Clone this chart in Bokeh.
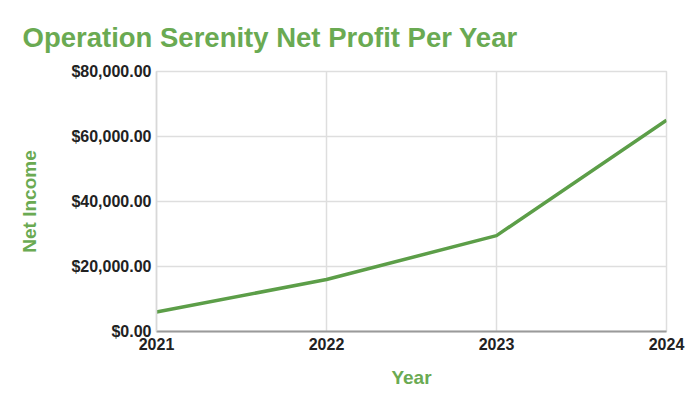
from bokeh.plotting import figure
from bokeh.models import NumeralTickFormatter, FixedTicker, Range1d
from bokeh.embed import file_html
from bokeh.resources import INLINE

years = [2021, 2022, 2023, 2024]
net_income = [6000, 16000, 29500, 65000]
y_ticks = [0, 20000, 40000, 60000, 80000]
title_text = "Operation Serenity Net Profit Per Year"
x_label = "Year"
y_label = "Net Income"

GREEN = "#6aaa52"
LINE = "#5c9e48"
FONT = "Liberation Sans"

p = figure(width=692, height=399, output_backend="svg", toolbar_location=None,
           x_range=Range1d(2021, 2024), y_range=Range1d(0, 80000),
           min_border_left=156, min_border_right=26, min_border_top=70,
           min_border_bottom=68, background_fill_color="white",
           border_fill_color="white")

p.title.text = title_text
p.title.text_font = FONT
p.title.text_font_size = "27.5px"
p.title.text_font_style = "bold"
p.title.text_color = GREEN
p.title.align = "left"
p.title.offset = -134
p.title.standoff = 38

p.line(years, net_income, line_width=3.5, line_color=LINE)

p.xaxis.ticker = FixedTicker(ticks=years)
p.yaxis.ticker = FixedTicker(ticks=y_ticks)
p.yaxis.formatter = NumeralTickFormatter(format="$0,0.00")

for ax in (p.xaxis, p.yaxis):
    ax.major_label_text_font = FONT
    ax.major_label_text_font_style = "bold"
    ax.major_label_text_color = "#222222"
    ax.major_tick_line_color = None
    ax.minor_tick_line_color = None
    ax.major_tick_out = 0
    ax.major_tick_in = 0
    ax.axis_label_text_font = FONT
    ax.axis_label_text_font_size = "19px"
    ax.axis_label_text_font_style = "bold"
    ax.axis_label_text_color = GREEN

p.xaxis.major_label_text_font_size = "16px"
p.yaxis.major_label_text_font_size = "16px"
p.xaxis.major_label_standoff = 6
p.yaxis.major_label_standoff = 5
p.xaxis.axis_label = x_label
p.yaxis.axis_label = y_label
p.xaxis.axis_line_color = "#9a9a9a"
p.xaxis.axis_line_width = 2
p.yaxis.axis_line_color = "#d8d8d8"
p.yaxis.axis_line_width = 1.5
p.xaxis.axis_label_standoff = 14
p.yaxis.axis_label_standoff = 28

p.xgrid.ticker = FixedTicker(ticks=years)
p.ygrid.ticker = FixedTicker(ticks=y_ticks)
p.grid.grid_line_color = "#dedede"
p.grid.grid_line_width = 1.5
p.outline_line_color = "#dedede"
p.outline_line_width = 1.5

open("out.html", "w").write(file_html(p, INLINE))
